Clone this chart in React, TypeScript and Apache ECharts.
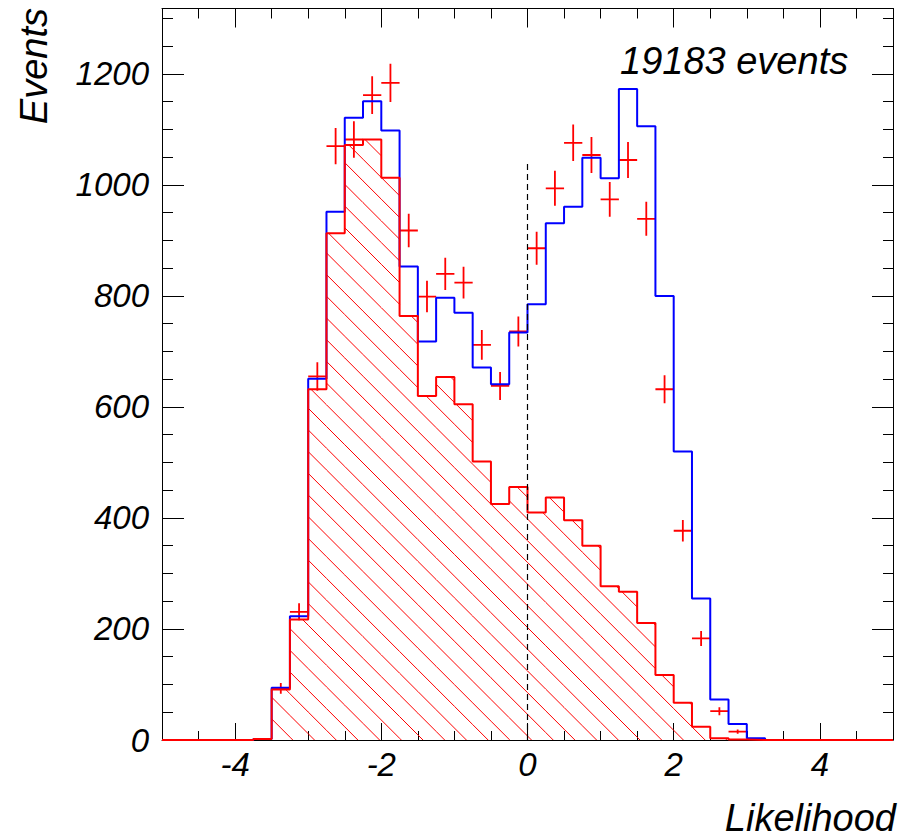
import React, { useEffect, useRef } from "react";
import * as echarts from "echarts";

// ---- data ----
const binLowEdges = [
  -3.75, -3.5, -3.25, -3.0, -2.75, -2.5, -2.25, -2.0, -1.75, -1.5, -1.25, -1.0, -0.75, -0.5,
  -0.25, 0.0, 0.25, 0.5, 0.75, 1.0, 1.25, 1.5, 1.75, 2.0, 2.25, 2.5, 2.75, 3.0,
];
const binWidth = 0.25;
const blueCounts = [
  2, 94, 223, 651, 952, 1121, 1151, 1098, 853, 718, 797, 770, 671, 641,
  734, 785, 931, 961, 1049, 1012, 1173, 1106, 800, 520, 255, 73, 29, 3,
];
const redCounts = [
  2, 91, 217, 632, 913, 1072, 1082, 1013, 764, 620, 654, 605, 502, 425,
  456, 410, 437, 396, 350, 277, 267, 211, 117, 67, 24, 3, 1, 0,
];
const dataCounts = [
  0, 93, 231, 655, 1070, 1082, 1162, 1184, 918, 799, 840, 824, 712, 638,
  736, 886, 994, 1076, 1054, 974, 1045, 939, 632, 377, 183, 52, 15, 0,
];
const xTickLabels = [-4, -2, 0, 2, 4];
const yTickLabels = [0, 200, 400, 600, 800, 1000, 1200];
const xRange = [-5, 5];
const yRange = [0, 1318];
const cutLine = [
  [0, 0],
  [0, 1045],
];
const eventsText = "19183 events";
const xTitle = "Likelihood";
const yTitle = "Events";

const FONT = '"Liberation Sans", Arial, Helvetica, sans-serif';
const RED = "#ff0000";
const BLUE = "#0000ff";

function stepPoints(counts: number[]) {
  const pts: number[][] = [[xRange[0], 0]];
  binLowEdges.forEach((e, i) => pts.push([e, counts[i]]));
  pts.push([binLowEdges[binLowEdges.length - 1] + binWidth, 0]);
  pts.push([xRange[1], 0]);
  return pts;
}

export default function App() {
  const ref = useRef<HTMLDivElement>(null);

  useEffect(() => {
    if (!ref.current) return;
    const chart = echarts.init(ref.current, undefined, { renderer: "svg" });

    const crossData = binLowEdges
      .map((e, i) => [e, e + binWidth, dataCounts[i], Math.sqrt(dataCounts[i])])
      .filter((d) => d[2] > 0);

    const labelStyle = {
      fontSize: 33,
      fontStyle: "italic",
      fontFamily: FONT,
      color: "#000",
      formatter: (v: number) => String(v),
    };

    const majorX = (pos: string, len: number, labels: boolean) => ({
      type: "value",
      min: xRange[0],
      max: xRange[1],
      position: pos,
      axisLine: { show: true, onZero: false, lineStyle: { color: "#000", width: 1 } },
      axisTick: { show: true, inside: true, length: len, customValues: xTickLabels, lineStyle: { color: "#000", width: 1 } },
      axisLabel: labels
        ? { show: true, customValues: xTickLabels, margin: 8, ...labelStyle }
        : { show: false },
      splitLine: { show: false },
    });
    const minorX = (pos: string, len: number) => ({
      type: "value",
      min: xRange[0],
      max: xRange[1],
      interval: 0.5,
      position: pos,
      axisLine: { show: false, onZero: false },
      axisTick: { show: true, inside: true, length: len, lineStyle: { color: "#000", width: 1 } },
      axisLabel: { show: false },
      splitLine: { show: false },
    });
    const majorY = (pos: string, len: number, labels: boolean) => ({
      type: "value",
      min: yRange[0],
      max: yRange[1],
      position: pos,
      axisLine: { show: true, onZero: false, lineStyle: { color: "#000", width: 1 } },
      axisTick: { show: true, inside: true, length: len, customValues: yTickLabels, lineStyle: { color: "#000", width: 1 } },
      axisLabel: labels
        ? { show: true, customValues: yTickLabels, margin: 13, ...labelStyle }
        : { show: false },
      splitLine: { show: false },
    });
    const minorY = (pos: string, len: number) => ({
      type: "value",
      min: yRange[0],
      max: yRange[1],
      interval: 50,
      position: pos,
      axisLine: { show: false, onZero: false },
      axisTick: { show: true, inside: true, length: len, lineStyle: { color: "#000", width: 1 } },
      axisLabel: { show: false },
      splitLine: { show: false },
    });

    const titleStyle = {
      fontSize: 38,
      lineHeight: 34,
      fontStyle: "italic",
      fontFamily: FONT,
      fill: "#000",
    };

    const option: any = {
      animation: false,
      backgroundColor: "#fff",
      grid: { left: 162, right: 14, top: 8.5, bottom: 99, containLabel: false },
      xAxis: [majorX("bottom", 17, true), minorX("bottom", 9), majorX("top", 19, false), minorX("top", 10)],
      yAxis: [majorY("left", 22, true), minorY("left", 11), majorY("right", 21, false), minorY("right", 10)],
      series: [
        {
          type: "lines",
          name: "hatch",
          coordinateSystem: "cartesian2d",
          xAxisIndex: 0,
          yAxisIndex: 0,
          polyline: false,
          large: false,
          silent: true,
          z: 1,
          data: [],
          lineStyle: { color: RED, width: 1, opacity: 1, curveness: 0 },
        },
        {
          type: "line",
          name: "blue",
          xAxisIndex: 0,
          yAxisIndex: 0,
          step: "end",
          symbol: "none",
          silent: true,
          data: stepPoints(blueCounts),
          lineStyle: { color: BLUE, width: 2 },
        },
        {
          type: "line",
          name: "red",
          xAxisIndex: 0,
          yAxisIndex: 0,
          step: "end",
          symbol: "none",
          silent: true,
          data: stepPoints(redCounts),
          lineStyle: { color: RED, width: 2 },
        },
        {
          type: "line",
          name: "cut",
          xAxisIndex: 0,
          yAxisIndex: 0,
          symbol: "none",
          silent: true,
          data: cutLine,
          lineStyle: { color: "#000", width: 1.2, type: [6, 4] },
        },
        {
          type: "custom",
          name: "data",
          xAxisIndex: 0,
          yAxisIndex: 0,
          silent: true,
          itemStyle: { color: RED },
          data: crossData,
          encode: { x: [0, 1], y: 2 },
          renderItem: (params: any, api: any) => {
            const lo = api.value(0);
            const hi = api.value(1);
            const v = api.value(2);
            const err = api.value(3);
            const mid = (lo + hi) / 2;
            const a = api.coord([lo, v]);
            const b = api.coord([hi, v]);
            const t = api.coord([mid, v + err]);
            const u = api.coord([mid, v - err]);
            const d = `M${a[0]} ${a[1]}L${b[0]} ${b[1]}` + `M${t[0]} ${t[1]}L${u[0]} ${u[1]}`;
            return {
              type: "path",
              shape: { pathData: d },
              style: { stroke: RED, fill: "none", lineWidth: 1.8 },
            };
          },
        },
      ],
      graphic: [
        {
          type: "text",
          x: 620,
          y: 61,
          style: { text: eventsText, align: "left", verticalAlign: "middle", ...titleStyle },
        },
        {
          type: "text",
          x: 896,
          y: 818,
          style: { text: xTitle, align: "right", verticalAlign: "middle", ...titleStyle },
        },
        {
          type: "text",
          x: 34,
          y: 8,
          rotation: Math.PI / 2,
          style: { text: yTitle, align: "right", verticalAlign: "middle", ...titleStyle },
        },
      ],
    };

    chart.setOption(option);

    // Hatching of the red histogram: 45-degree lines in screen space, clipped to each bin,
    // positioned through the chart's own axis conversion.
    const finder = { xAxisIndex: 0, yAxisIndex: 0 };
    const S = 21.7;
    const phase = 13.2;
    const hatchLines: any[] = [];
    binLowEdges.forEach((lo, i) => {
      const v = redCounts[i];
      if (!(v > 0)) return;
      const p0 = chart.convertToPixel(finder, [lo, v]) as number[];
      const p1 = chart.convertToPixel(finder, [lo + binWidth, 0]) as number[];
      const X0 = p0[0];
      const X1 = p1[0];
      const Yt = p0[1];
      const Yb = p1[1];
      const cMin = Yt - X1;
      const cMax = Yb - X0;
      for (let k = Math.ceil((cMin - phase) / S); phase + k * S <= cMax; k++) {
        const c = phase + k * S;
        const xa = Math.max(X0, Yt - c);
        const xb = Math.min(X1, Yb - c);
        if (xb <= xa) continue;
        hatchLines.push({
          coords: [
            chart.convertFromPixel(finder, [xa, xa + c]),
            chart.convertFromPixel(finder, [xb, xb + c]),
          ],
        });
      }
    });
    chart.setOption({ series: [{ name: "hatch", data: hatchLines }] });

    return () => chart.dispose();
  }, []);

  return (
    <div
      ref={ref}
      style={{ position: "absolute", left: 0, top: 0, width: 907, height: 839, background: "#fff" }}
    />
  );
}
